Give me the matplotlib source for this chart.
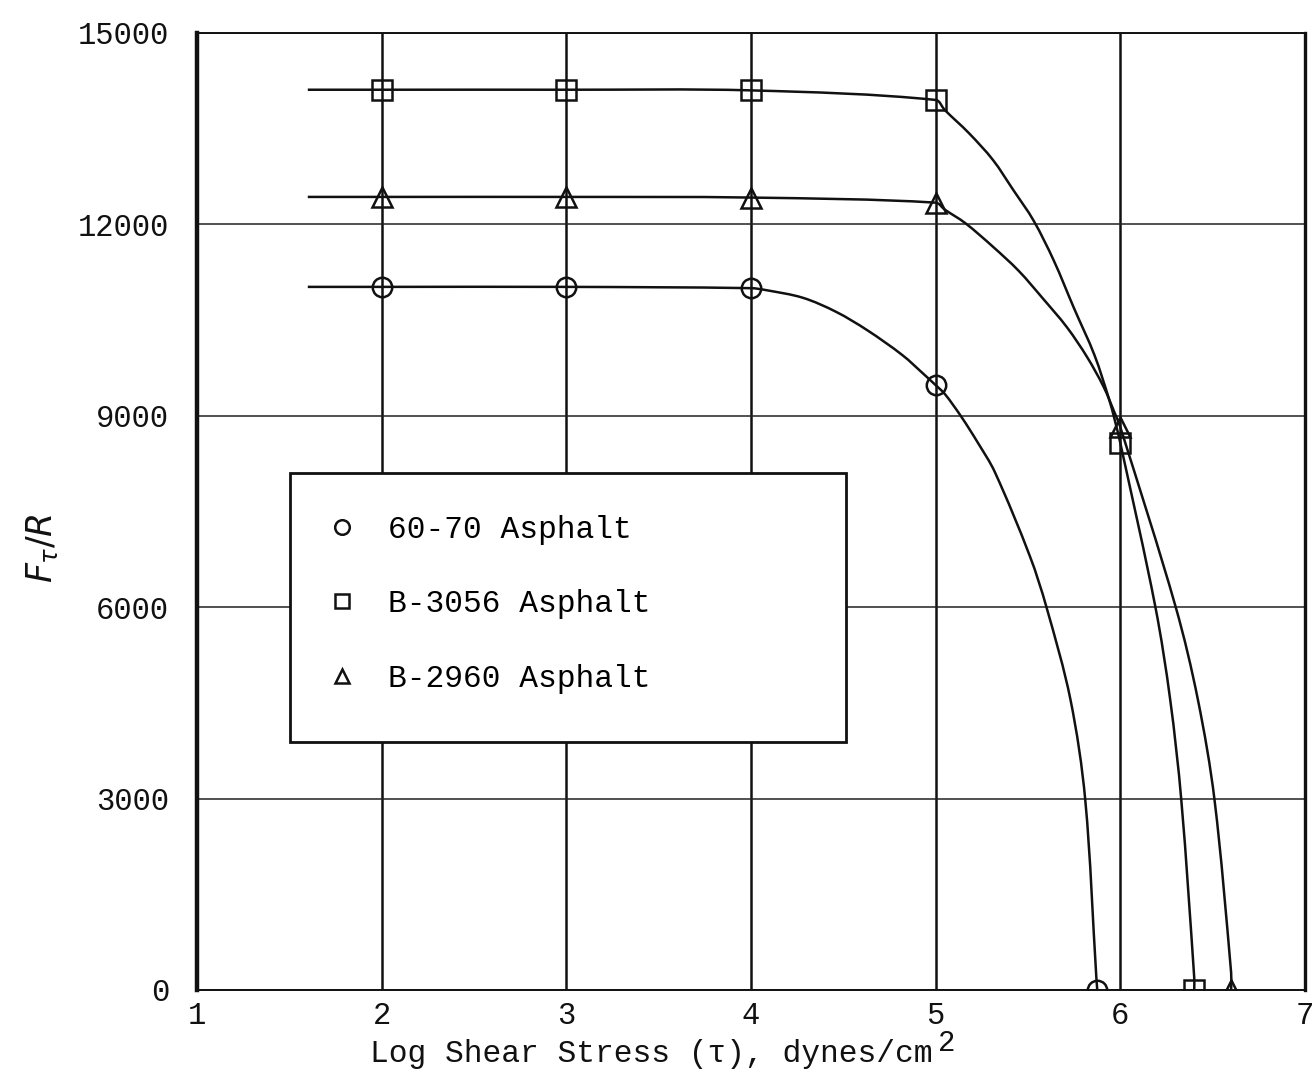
import numpy as np
import matplotlib.pyplot as plt
from matplotlib.patches import Rectangle, PathPatch
from matplotlib.path import Path

plt.rcParams['font.family'] = ['Liberation Mono', 'DejaVu Sans']

# log shear stress ticks and F/R ticks
x_ticks = [1, 2, 3, 4, 5, 6, 7]
y_ticks = [0, 3000, 6000, 9000, 12000, 15000]

# measured points
asph_6070_x = [2, 3, 4, 5, 5.875]
asph_6070_y = [11020, 11020, 11000, 9480, 0]
b3056_x = [2, 3, 4, 5, 6, 6.40]
b3056_y = [14110, 14110, 14100, 13950, 8570, 0]
b2960_x = [2, 3, 4, 5, 6, 6.60]
b2960_y = [12430, 12430, 12420, 12340, 8820, 0]

# faired curves drawn through each set of points
curve_6070_x = [1.6, 2, 3, 4, 4.08, 4.28, 4.46, 4.63, 4.82, 4.94, 5.0, 5.05, 5.14,
                5.23, 5.32, 5.51, 5.60, 5.73, 5.81, 5.87, 5.875]
curve_6070_y = [11020, 11020, 11020, 11000, 10970, 10850, 10630, 10340, 9950, 9640,
                9480, 9340, 8980, 8570, 8120, 6800, 6000, 4550, 2980, 200, 0]
curve_3056_x = [1.6, 2, 3, 4, 5, 5.05, 5.18, 5.31, 5.42, 5.53, 5.64, 5.75, 5.86,
                5.94, 5.97, 6.0, 6.19, 6.27, 6.33, 6.40, 6.40]
curve_3056_y = [14110, 14110, 14110, 14100, 13950, 13790, 13430, 13010, 12540, 12060,
                11430, 10680, 9950, 9250, 8930, 8570, 6000, 4550, 2980, 200, 0]
curve_2960_x = [1.6, 2, 3, 4, 5, 5.05, 5.16, 5.31, 5.45, 5.58, 5.71, 5.82, 5.91,
                5.97, 6.0, 6.30, 6.42, 6.51, 6.60, 6.60]
curve_2960_y = [12430, 12430, 12430, 12420, 12340, 12230, 12020, 11650, 11270, 10840,
                10390, 9920, 9450, 9040, 8820, 6000, 4550, 2980, 270, 0]


def faired_path(ax, xs, ys):
    """Chord-length Catmull-Rom through the points, as cubic Bezier segments."""
    pts = ax.transData.transform(np.column_stack([xs, ys]))
    seg = np.hypot(*np.diff(pts, axis=0).T)
    s = np.concatenate([[0.0], np.cumsum(seg)])
    n = len(pts)
    tang = np.zeros_like(pts)
    tang[0] = (pts[1] - pts[0]) / max(s[1] - s[0], 1e-9)
    tang[-1] = (pts[-1] - pts[-2]) / max(s[-1] - s[-2], 1e-9)
    for i in range(1, n - 1):
        tang[i] = (pts[i + 1] - pts[i - 1]) / max(s[i + 1] - s[i - 1], 1e-9)
    verts = [pts[0]]
    codes = [Path.MOVETO]
    for i in range(n - 1):
        h = seg[i]
        verts += [pts[i] + tang[i] * h / 3, pts[i + 1] - tang[i + 1] * h / 3, pts[i + 1]]
        codes += [Path.CURVE4] * 3
    verts = ax.transData.inverted().transform(np.array(verts))
    return Path(verts, codes)


fig = plt.figure(figsize=(13.15, 10.77), dpi=100)
ax = fig.add_axes([0.1498, 0.0808, 0.8426, 0.8886])
ax.set_xlim(1, 7)
ax.set_ylim(0, 15000)

ax.set_xticks(x_ticks)
ax.set_yticks(y_ticks)
ax.set_xticklabels([str(t) for t in x_ticks])
ax.set_yticklabels([str(t) for t in y_ticks])
ax.tick_params(axis='both', length=0, labelsize=22, colors='#111111')
ax.tick_params(axis='x', pad=8)
ax.tick_params(axis='y', pad=20)

ax.set_axisbelow(True)
ax.xaxis.grid(True, color='#111111', lw=1.8)
ax.yaxis.grid(True, color='#222222', lw=1.1)

ax.spines['left'].set_linewidth(3.2)
ax.spines['right'].set_linewidth(2.4)
ax.spines['top'].set_linewidth(1.4)
ax.spines['bottom'].set_linewidth(1.4)
for sp in ax.spines.values():
    sp.set_color('#111111')

# curves
for cx, cy in [(curve_6070_x, curve_6070_y), (curve_3056_x, curve_3056_y),
               (curve_2960_x, curve_2960_y)]:
    ax.add_patch(PathPatch(faired_path(ax, cx, cy), fill=False,
                           edgecolor='#111111', lw=1.8, zorder=3))

# open markers
mk = dict(linestyle='none', markersize=14, markerfacecolor='none',
          markeredgecolor='#111111', markeredgewidth=1.8, zorder=4)
ax.plot(asph_6070_x, asph_6070_y, marker='o', label='60-70 Asphalt', **mk)
ax.plot(b3056_x, b3056_y, marker='s', label='B-3056 Asphalt', **mk)
ax.plot(b2960_x, b2960_y, marker='^', label='B-2960 Asphalt', **mk)

# legend box (opaque, covers the grid)
box = Rectangle((1.504, 3890), 3.01, 4213, facecolor='white', edgecolor='#111111',
                lw=2.0, zorder=2)
ax.add_patch(box)
ax.legend(loc='upper left', bbox_to_anchor=(326 / 1315, 1 - 515 / 1077),
          bbox_transform=fig.transFigure, frameon=False, fontsize=22.5,
          markerscale=0.75, handlelength=1.0, handletextpad=1.0,
          borderpad=0, borderaxespad=0, labelspacing=1.42)

fig.text(370 / 1315, 1 - 1054 / 1077, 'Log Shear Stress (\u03c4), dynes/cm',
         fontsize=22.5, ha='left', va='center', color='#111111')
fig.text(938 / 1315, 1 - 1043 / 1077, '2', fontsize=21, ha='left', va='center',
         color='#111111')
fig.text(42 / 1315, 1 - 548 / 1077, r'$F_{\tau}/R$', fontsize=25, rotation=90,
         ha='center', va='center', color='#111111')

fig.savefig('out.png', dpi=100, facecolor='white')
